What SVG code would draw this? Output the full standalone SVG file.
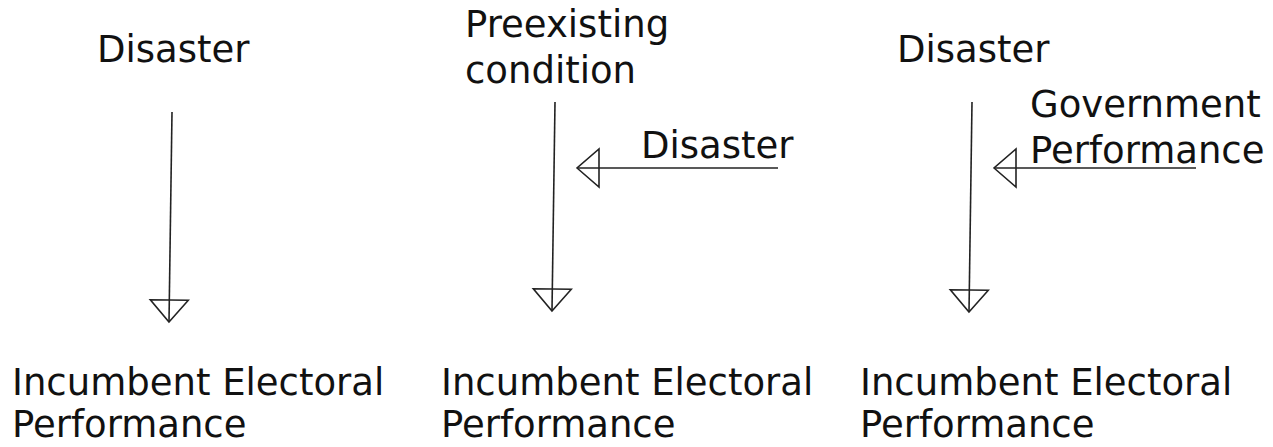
<svg xmlns="http://www.w3.org/2000/svg" width="1273" height="447" viewBox="0 0 1273 447">
<style>
text{font-family:"DejaVu Sans","Verdana",sans-serif;font-size:37px;fill:#111}
.c{stroke:#222;stroke-width:1.6;fill:none}
</style>
<defs>
<marker id="open" viewBox="-25 -21 27 42" refX="0" refY="0" markerWidth="27" markerHeight="42" orient="auto" markerUnits="userSpaceOnUse">
<path d="M0,0 L-22,-19 L-22,19 Z" fill="none" stroke="#222" stroke-width="1.6"/>
</marker>
</defs>
<rect width="1273" height="447" fill="#fff"/>
<g id="d1"><text x="97" y="62">Disaster</text></g>
<g id="o1"><text x="12" y="395">Incumbent Electoral</text><text x="12" y="437">Performance</text></g>
<g id="p2"><text x="465" y="37">Preexisting</text><text x="465" y="83">condition</text></g>
<g id="d2"><text x="641" y="158">Disaster</text></g>
<g id="o2"><text x="441" y="395">Incumbent Electoral</text><text x="441" y="437">Performance</text></g>
<g id="d3"><text x="897" y="62">Disaster</text></g>
<g id="g3"><text x="1030" y="117">Government</text><text x="1030" y="163">Performance</text></g>
<g id="o3"><text x="860" y="395">Incumbent Electoral</text><text x="860" y="437">Performance</text></g>
<g id="connectors">
<line class="c" x1="172" y1="112" x2="169" y2="322" marker-end="url(#open)"/>
<line class="c" x1="555" y1="102" x2="552" y2="311" marker-end="url(#open)"/>
<line class="c" x1="778" y1="168" x2="577" y2="168" marker-end="url(#open)"/>
<line class="c" x1="972" y1="102" x2="969" y2="312" marker-end="url(#open)"/>
<line class="c" x1="1196" y1="168" x2="994" y2="168" marker-end="url(#open)"/>
</g>
</svg>
